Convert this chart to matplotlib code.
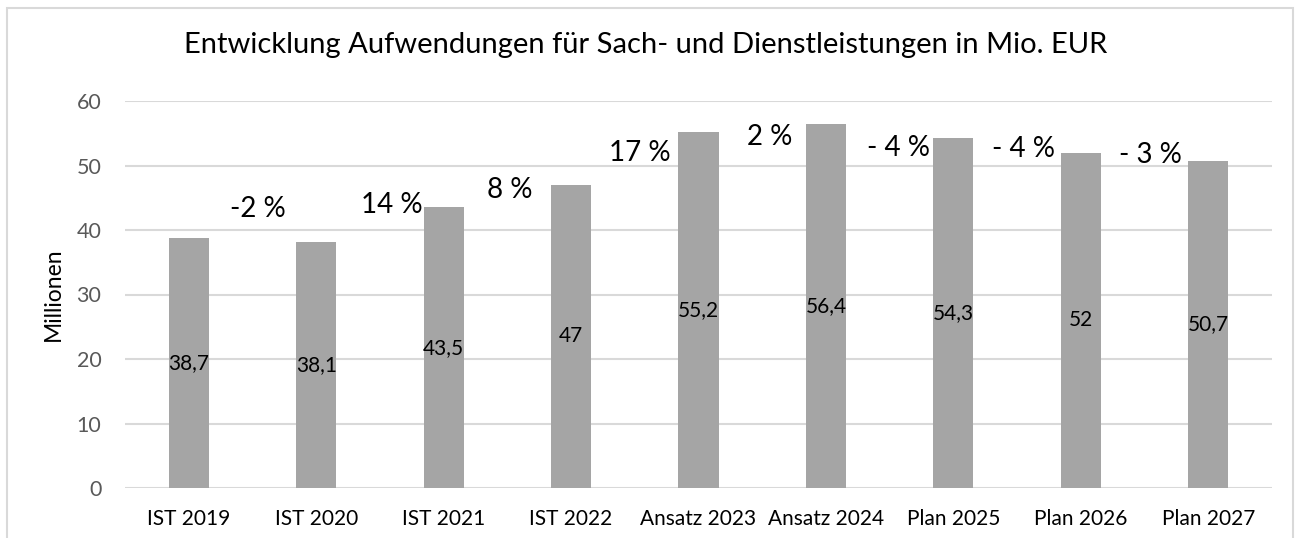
import matplotlib
matplotlib.use("Agg")
import matplotlib.pyplot as plt
from matplotlib.patches import Rectangle

# ---- data ----
categories = ["IST 2019", "IST 2020", "IST 2021", "IST 2022", "Ansatz 2023",
              "Ansatz 2024", "Plan 2025", "Plan 2026", "Plan 2027"]
values = [38.7, 38.1, 43.5, 47.0, 55.2, 56.4, 54.3, 52.0, 50.7]
value_texts = ["38,7", "38,1", "43,5", "47", "55,2", "56,4", "54,3", "52", "50,7"]
pct_labels = ["-2 %", "14 %", "8 %", "17 %", "2 %", "- 4 %", "- 4 %", "- 3 %"]
yticks = [0, 10, 20, 30, 40, 50, 60]
title = "Entwicklung Aufwendungen für Sach- und Dienstleistungen in Mio. EUR"
ylabel = "Millionen"

# ---- layout (annotation positions in data coords) ----
pct_x = [0.54, 1.59, 2.52, 3.54, 4.56, 5.57, 6.55, 7.55]
pct_y = [43.3, 43.9, 46.2, 51.9, 54.4, 52.7, 52.6, 51.6]

plt.rcParams['font.family'] = ['Lato', 'DejaVu Sans']

W, H = 1295, 538
fig = plt.figure(figsize=(W / 100, H / 100), dpi=100)
fig.patch.set_facecolor("white")

# outer chart border
fig.patches.append(Rectangle((7 / W, -0.05), (1293 - 7) / W, 1.05 - 8 / H,
                             transform=fig.transFigure, fill=False,
                             edgecolor="#D9D9D9", linewidth=1.5))

ax = fig.add_axes([125 / W, (H - 488) / H, (1272 - 125) / W, (488 - 101) / H])
x = list(range(len(categories)))
ax.bar(x, values, width=0.314, color="#A5A5A5", zorder=3)
ax.set_xlim(-0.5, len(categories) - 0.5)
ax.set_ylim(0, 60)
ax.set_yticks(yticks)
ax.set_yticklabels([str(t) for t in yticks], fontsize=15.5, color="#595959")
ax.set_xticks(x)
ax.set_xticklabels(categories, fontsize=15, color="#000000")
ax.tick_params(axis="both", length=0)
ax.tick_params(axis="y", pad=17)
ax.tick_params(axis="x", pad=15)
ax.yaxis.grid(True, color="#D9D9D9", linewidth=1.5, zorder=0)
for s in ax.spines.values():
    s.set_visible(False)
ax.set_facecolor("white")

for xi, v, t in zip(x, values, value_texts):
    ax.text(xi, v / 2, t, ha="center", va="center", fontsize=15,
            color="#000000", zorder=4)

for px, py, t in zip(pct_x, pct_y, pct_labels):
    ax.text(px, py, t, ha="center", va="center", fontsize=20,
            color="#000000", zorder=4)

ax.set_ylabel(ylabel, fontsize=16.5, color="#000000")
ax.yaxis.set_label_coords(-(125 - 64) / (1272 - 125), 0.5)

fig.text(646 / W, 1 - 45 / H, title, ha="center", va="center",
         fontsize=21, color="#000000")

fig.savefig("out.png", dpi=100)
